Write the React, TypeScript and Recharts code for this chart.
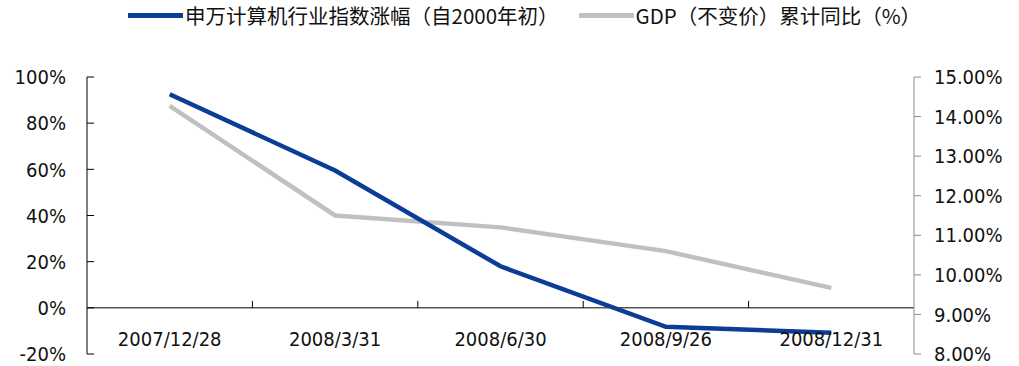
import { LineChart, Line, XAxis, YAxis, ReferenceLine } from "recharts";

const dates = ["2007/12/28", "2008/3/31", "2008/6/30", "2008/9/26", "2008/12/31"];
// 申万计算机行业指数涨幅（自2000年初），%
const swComputer = [92.5, 59.5, 18, -8.2, -10.8];
// GDP（不变价）累计同比，%
const gdpYoY = [14.27, 11.5, 11.2, 10.6, 9.67];

const leftTicks = [-20, 0, 20, 40, 60, 80, 100];
const rightTicks = [8, 9, 10, 11, 12, 13, 14, 15];

const BLUE = "#0b3d96";
const GRAY = "#c0c0c0";
const FONT = "'DejaVu Sans', 'Liberation Sans', 'Noto Sans CJK SC', sans-serif";

const WIDTH = 1019;
const HEIGHT = 366;
const MARGIN = { top: 77, right: 0, bottom: 0, left: 0 };
const LEFT_W = 87;
const RIGHT_W = 105;
const X_H = 12;
const PLOT_W = WIDTH - LEFT_W - RIGHT_W;
const PLOT_H = HEIGHT - MARGIN.top - X_H;
const BAND = PLOT_W / dates.length;
// pixel row of the 0% line on the left axis
const ZERO_Y =
  MARGIN.top +
  ((leftTicks[leftTicks.length - 1] - 0) / (leftTicks[leftTicks.length - 1] - leftTicks[0])) * PLOT_H;

const data = dates.map((date, i) => ({
  date,
  sw: swComputer[i],
  gdp: gdpYoY[i],
}));

function LeftTick({ x, y, payload }: any) {
  return (
    <g>
      <line x1={x} x2={x + 7} y1={y} y2={y} stroke="#000" />
      <text x={x - 21} y={y} dy="0.36em" textAnchor="end" fontSize={20} fill="#111">
        {`${payload.value}%`}
      </text>
    </g>
  );
}

function DateTick({ x, y, payload, index }: any) {
  return (
    <g>
      {index < dates.length - 1 && (
        <line
          x1={x + BAND / 2}
          x2={x + BAND / 2}
          y1={ZERO_Y - 7}
          y2={ZERO_Y}
          stroke="#000"
        />
      )}
      <text x={x} y={y - 8} textAnchor="middle" fontSize={20} fill="#111">
        {payload.value}
      </text>
    </g>
  );
}

function LegendItem({ color, label }: { color: string; label: string }) {
  return (
    <div style={{ display: "flex", alignItems: "center" }}>
      <span
        style={{
          display: "inline-block",
          width: 55,
          height: 5,
          background: color,
          marginRight: 2,
        }}
      />
      <span>{label}</span>
    </div>
  );
}

export default function App() {
  return (
    <div
      style={{
        position: "absolute",
        left: 0,
        top: 0,
        width: WIDTH,
        height: HEIGHT,
        background: "#fff",
        fontFamily: FONT,
        fontStretch: "condensed",
      }}
    >
      <div
        style={{
          position: "absolute",
          left: 128,
          top: 2,
          display: "flex",
          gap: 20,
          fontSize: 20.5,
          lineHeight: "26px",
          color: "#111",
          fontFamily: "'Noto Sans CJK SC', sans-serif",
          fontStretch: "normal",
        }}
      >
        <LegendItem color={BLUE} label="申万计算机行业指数涨幅（自2000年初）" />
        <LegendItem color={GRAY} label="GDP（不变价）累计同比（%）" />
      </div>
      <LineChart width={WIDTH} height={HEIGHT} data={data} margin={MARGIN}>
        <XAxis
          dataKey="date"
          scale="band"
          height={X_H}
          axisLine={false}
          tickLine={false}
          tickSize={0}
          tickMargin={0}
          interval={0}
          tick={<DateTick />}
        />
        <YAxis
          yAxisId="left"
          width={LEFT_W}
          domain={[-20, 100]}
          ticks={leftTicks}
          interval={0}
          axisLine={{ stroke: "#000" }}
          tickLine={false}
          tickSize={0}
          tickMargin={0}
          tick={<LeftTick />}
        />
        <YAxis
          yAxisId="right"
          orientation="right"
          width={RIGHT_W}
          domain={[8, 15]}
          ticks={rightTicks}
          interval={0}
          axisLine={{ stroke: "#8c8c8c" }}
          tickLine={{ stroke: "#8c8c8c" }}
          tickSize={7}
          tickMargin={13}
          tick={{ fill: "#111", fontSize: 20 }}
          tickFormatter={(v: number) => `${v.toFixed(2)}%`}
        />
        <ReferenceLine yAxisId="left" y={0} stroke="#000" ifOverflow="visible" />
        <Line
          yAxisId="right"
          dataKey="gdp"
          type="linear"
          stroke={GRAY}
          strokeWidth={4.5}
          dot={false}
          isAnimationActive={false}
        />
        <Line
          yAxisId="left"
          dataKey="sw"
          type="linear"
          stroke={BLUE}
          strokeWidth={4.5}
          dot={false}
          isAnimationActive={false}
        />
      </LineChart>
    </div>
  );
}
